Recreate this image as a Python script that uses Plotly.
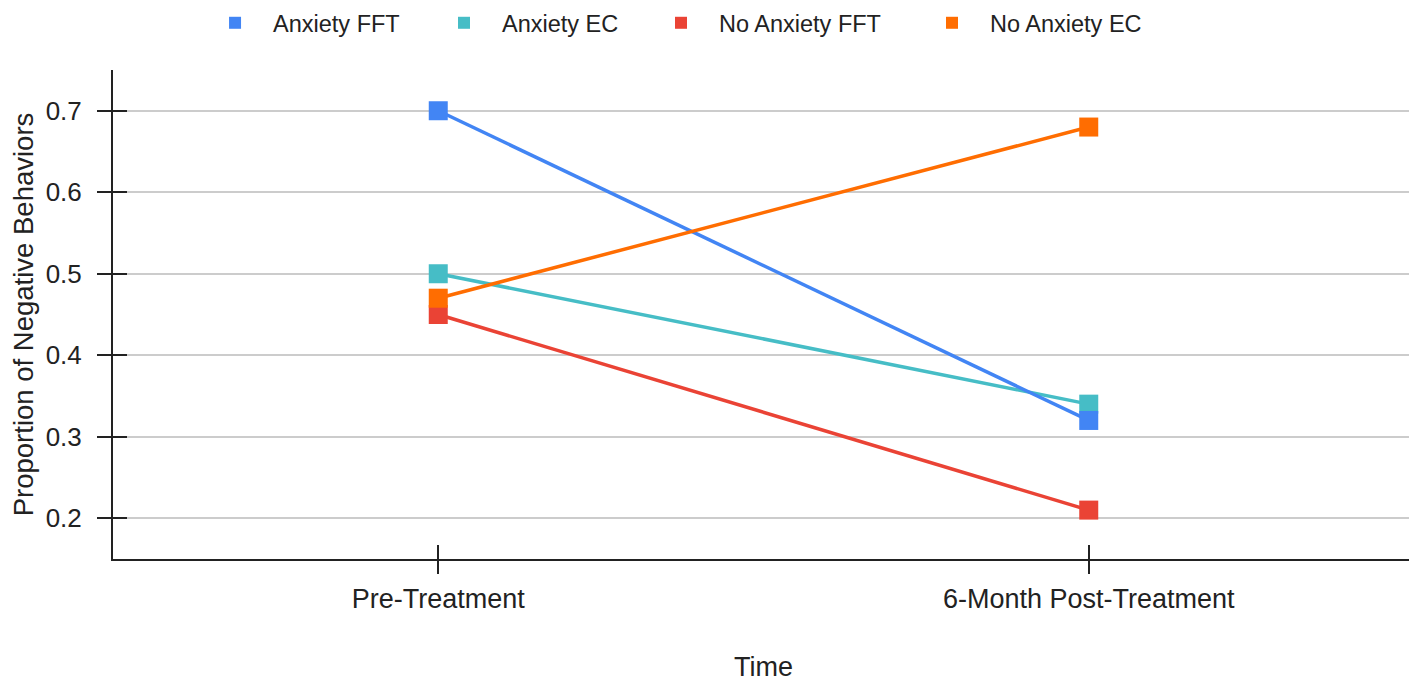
import plotly.graph_objects as go

categories = ["Pre-Treatment", "6-Month Post-Treatment"]
series_names = ["Anxiety FFT", "Anxiety EC", "No Anxiety FFT", "No Anxiety EC"]
anxiety_fft = [0.70, 0.32]
anxiety_ec = [0.50, 0.34]
no_anxiety_fft = [0.45, 0.21]
no_anxiety_ec = [0.47, 0.68]
y_ticks = [0.2, 0.3, 0.4, 0.5, 0.6, 0.7]

colors = {
    "Anxiety FFT": "#4285F4",
    "Anxiety EC": "#46BDC6",
    "No Anxiety FFT": "#EA4335",
    "No Anxiety EC": "#FF6D01",
}
values = {
    "Anxiety FFT": anxiety_fft,
    "Anxiety EC": anxiety_ec,
    "No Anxiety FFT": no_anxiety_fft,
    "No Anxiety EC": no_anxiety_ec,
}
draw_order = ["Anxiety EC", "Anxiety FFT", "No Anxiety FFT", "No Anxiety EC"]
legend_ids = ["legend", "legend2", "legend3", "legend4"]
legend_x = [0.0646, 0.2406, 0.4074, 0.6157]

FONT = "Liberation Sans, Arial, sans-serif"
TXT = "#222222"

fig = go.Figure()
for name in draw_order:
    fig.add_trace(go.Scatter(
        x=categories, y=values[name], name=name, mode="lines+markers",
        line=dict(color=colors[name], width=3.5),
        marker=dict(symbol="square", size=19, color=colors[name]),
        showlegend=False,
    ))

# legend entries (square swatches only), one legend per entry
for name, lid in zip(series_names, legend_ids):
    fig.add_trace(go.Scatter(
        x=[None], y=[None], name=name, mode="markers",
        marker=dict(symbol="square", size=14, color=colors[name]),
        showlegend=True, legend=lid,
    ))

# invisible traces to carry the inside tick axes
fig.add_trace(go.Scatter(x=categories, y=[None, None], yaxis="y2", showlegend=False,
                         hoverinfo="skip", mode="lines"))
fig.add_trace(go.Scatter(x=categories, y=[None, None], xaxis="x2", showlegend=False,
                         hoverinfo="skip", mode="lines"))

legend_style = dict(orientation="h", xanchor="left", y=1.0961, yanchor="middle",
                    font=dict(size=23.5, color=TXT), itemsizing="constant",
                    itemwidth=66, bgcolor="rgba(0,0,0,0)")

fig.update_layout(
    width=1417, height=680,
    margin=dict(l=105, r=11, t=62, b=129, autoexpand=False),
    paper_bgcolor="white", plot_bgcolor="white",
    font=dict(family=FONT, size=26, color=TXT),
    showlegend=True,
    xaxis=dict(
        type="category", range=[-0.5, 1.5],
        showline=True, linecolor=TXT, linewidth=2,
        ticks="outside", ticklen=13, tickwidth=1.5, tickcolor=TXT,
        showgrid=False, zeroline=False, ticklabelstandoff=2,
        tickfont=dict(size=27, color=TXT),
        title=dict(text="Time", font=dict(size=27, color=TXT), standoff=44),
    ),
    xaxis2=dict(
        type="category", range=[-0.5, 1.5], overlaying="x", side="bottom",
        showline=False, ticks="inside", ticklen=14, tickwidth=1.5, tickcolor=TXT,
        showticklabels=False, showgrid=False, zeroline=False,
    ),
    yaxis=dict(
        range=[0.15, 0.75], tickvals=y_ticks, ticktext=[f"{v:.1f}" for v in y_ticks],
        showline=True, linecolor=TXT, linewidth=2,
        ticks="outside", ticklen=14, tickwidth=1.5, tickcolor=TXT,
        showgrid=True, gridcolor="#cccccc", gridwidth=1.5, zeroline=False,
        ticklabelstandoff=10,
        tickfont=dict(size=26, color=TXT),
        title=dict(text="Proportion of Negative Behaviors", font=dict(size=27.5, color=TXT),
                   standoff=34),
    ),
    yaxis2=dict(
        range=[0.15, 0.75], tickvals=y_ticks, overlaying="y", side="left",
        showline=False, ticks="inside", ticklen=14, tickwidth=1.5, tickcolor=TXT,
        showticklabels=False, showgrid=False, zeroline=False,
    ),
)
for lid, lx in zip(legend_ids, legend_x):
    fig.update_layout({lid: dict(legend_style, x=lx)})

fig.write_html("out.html")
